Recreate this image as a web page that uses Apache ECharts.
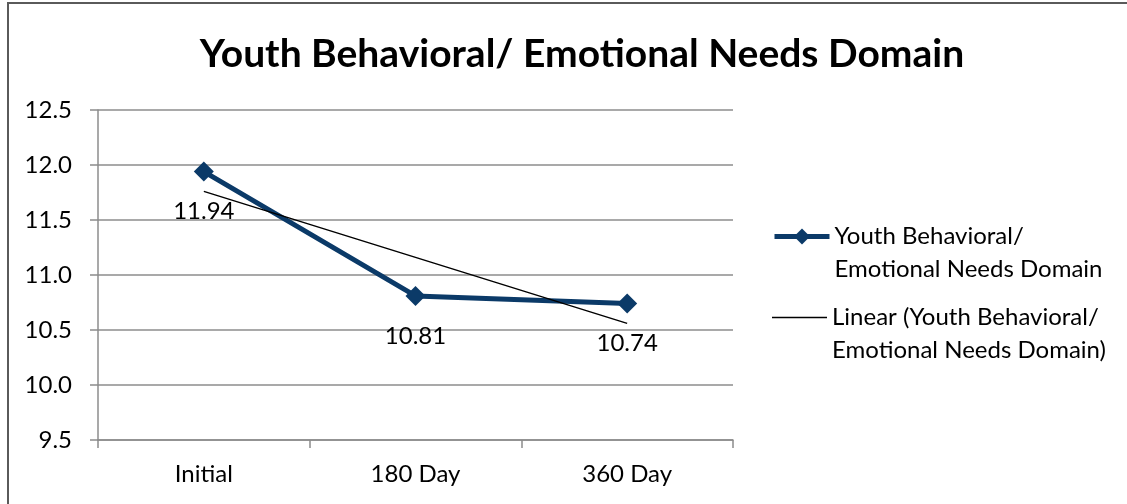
<!DOCTYPE html>
<html>
<head>
<meta charset="utf-8">
<style>
  html, body { margin: 0; padding: 0; background: #fff; }
  #chart { width: 1127px; height: 504px; }
</style>
<script src="https://cdn.jsdelivr.net/npm/echarts@6/dist/echarts.min.js"></script>
</head>
<body>
<div id="chart"></div>
<script>
var categories = ['Initial', '180 Day', '360 Day'];
var domainValues = [11.94, 10.81, 10.74];
var trendValues = [11.76, 11.16, 10.56];
var seriesNames = ['Youth Behavioral/ Emotional Needs Domain', 'Linear (Youth Behavioral/ Emotional Needs Domain)'];
var legendLines = {
  'Youth Behavioral/ Emotional Needs Domain': '\nYouth Behavioral/\nEmotional Needs Domain',
  'Linear (Youth Behavioral/ Emotional Needs Domain)': '\nLinear (Youth Behavioral/\nEmotional Needs Domain)'
};

var font = 'Lato, Carlito, "Open Sans", sans-serif';
var gray = '#8c8c8c';
var navy = '#0b3a68';

var legendText = { fontFamily: font, fontSize: 24, color: '#000', lineHeight: 33 };
// one legend per entry so the icon sits on the first text line
function legendFor(item, top) {
  return {
    orient: 'vertical',
    left: 772,
    top: top,
    padding: 0,
    itemWidth: 55,
    itemHeight: 20,
    data: [item],
    formatter: function (name) { return legendLines[name]; },
    textStyle: legendText
  };
}

var myChart = echarts.init(document.getElementById('chart'));
var option = {
  animation: false,
  title: {
    text: 'Youth Behavioral/ Emotional Needs Domain',
    left: 577,
    textAlign: 'center',
    top: 30,
    textStyle: { fontFamily: font, fontSize: 39, fontWeight: 'bold', color: '#000' }
  },
  graphic: [{
    type: 'rect',
    shape: { x: 8, y: 3, width: 1140, height: 520 },
    style: { fill: 'none', stroke: '#5a5a5a', lineWidth: 2 },
    silent: true,
    z: -1
  }],
  legend: [
    legendFor({ name: seriesNames[0], lineStyle: { width: 5 } }, 187),
    legendFor({ name: seriesNames[1], icon: 'path://M0,0H55V1.5H0Z', symbolKeepAspect: true }, 268)
  ],
  grid: { left: 98, right: 394, top: 110, bottom: 64 },
  xAxis: {
    type: 'category',
    data: categories,
    boundaryGap: true,
    axisLine: { lineStyle: { color: gray, width: 1.5 } },
    axisTick: { show: true, length: 8, lineStyle: { color: gray, width: 1.5 } },
    axisLabel: { fontFamily: font, fontSize: 24, color: '#000', margin: 22 }
  },
  yAxis: {
    type: 'value',
    min: 9.5,
    max: 12.5,
    interval: 0.5,
    axisLine: { show: true, lineStyle: { color: gray, width: 1.5 } },
    axisTick: { show: true, length: 8, lineStyle: { color: gray, width: 1.5 } },
    splitLine: { lineStyle: { color: gray, width: 1.5 } },
    axisLabel: {
      fontFamily: font, fontSize: 24, color: '#000', margin: 26,
      formatter: function (v) { return v.toFixed(1); }
    }
  },
  series: [
    {
      name: seriesNames[0],
      type: 'line',
      data: domainValues,
      symbol: 'diamond',
      symbolSize: 20,
      lineStyle: { color: navy, width: 5 },
      itemStyle: { color: navy },
      label: {
        show: true,
        position: 'bottom',
        distance: 18,
        fontFamily: font, fontSize: 24, color: '#000',
        formatter: function (p) { return p.value.toFixed(2); }
      },
      z: 3
    },
    {
      name: seriesNames[1],
      type: 'line',
      data: trendValues,
      symbol: 'none',
      lineStyle: { color: '#000', width: 1.5 },
      itemStyle: { color: '#000' },
      z: 4
    }
  ]
};
option && myChart.setOption(option);
</script>
</body>
</html>
